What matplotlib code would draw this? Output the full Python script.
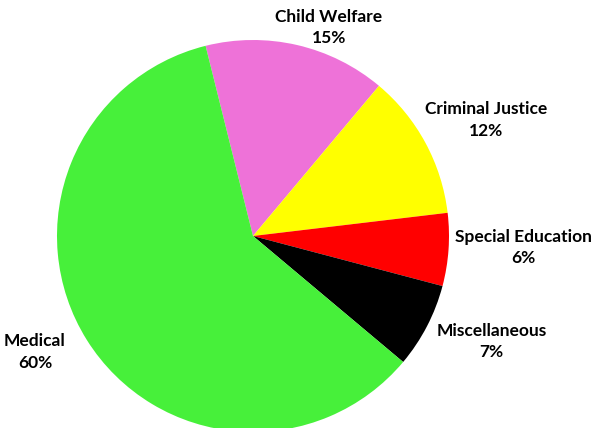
import matplotlib
matplotlib.use("Agg")
import matplotlib.pyplot as plt
import numpy as np

# Share of cases by category (percent)
categories = ["Child Welfare", "Criminal Justice", "Special Education",
              "Miscellaneous", "Medical"]
shares = [15, 12, 6, 7, 60]
colors = ["#EE72D8", "#FFFF00", "#FF0000", "#000000", "#47F03A"]

# Radial distance of each label from the centre (pie radius = 1)
label_dist = [1.13, 1.33, 1.38, 1.33, 1.26]
# Angular nudge of each label from the wedge middle, degrees
label_shift = [-7, -2, 1.5, 3.5, -4]

fig = plt.figure(figsize=(5.92, 4.28), dpi=100)
ax = fig.add_axes([0, 0, 1, 1])

wedges, _ = ax.pie(shares, colors=colors, startangle=104, counterclock=False,
                   radius=1, center=(0, 0), frame=False)

for w, name, pct, d, s in zip(wedges, categories, shares, label_dist, label_shift):
    mid = np.deg2rad((w.theta1 + w.theta2) / 2 + s)
    ax.text(d * np.cos(mid), d * np.sin(mid), f"{name}\n{pct}%",
            ha="center", va="center", multialignment="center",
            fontsize=12.5, fontweight="bold",
            family=["Lato", "DejaVu Sans"],
            linespacing=1.4)

# pie centre sits at pixel (253, 236) with radius 196 px
ax.set_xlim(-253 / 196, (592 - 253) / 196)
ax.set_ylim(-(428 - 236) / 196, 236 / 196)
ax.set_aspect("equal")
ax.axis("off")

fig.savefig("out.png", dpi=100)
